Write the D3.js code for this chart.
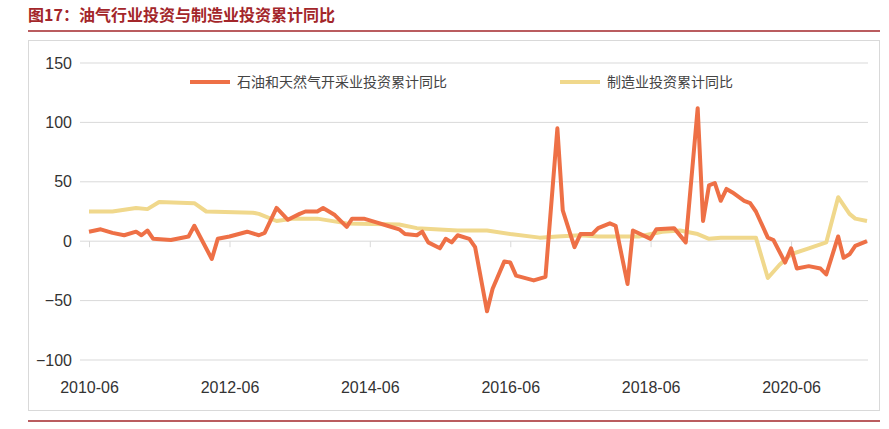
<!DOCTYPE html>
<html><head><meta charset="utf-8">
<script src="https://cdn.jsdelivr.net/npm/d3@7/dist/d3.min.js"></script>
<style>body{margin:0;background:#fff;font-family:"Noto Sans CJK SC","DejaVu Sans",sans-serif}</style>
</head><body><svg id="c" width="889" height="429"></svg>
<script>
const oilDates=["2010-06","2010-08","2010-10","2010-12","2011-02","2011-03","2011-04","2011-05","2011-08","2011-11","2011-12","2012-03","2012-04","2012-06","2012-09","2012-11","2012-12","2013-02","2013-04","2013-06","2013-07","2013-09","2013-10","2013-12","2014-02","2014-03","2014-05","2014-07","2014-09","2014-11","2014-12","2015-02","2015-03","2015-04","2015-06","2015-07","2015-08","2015-09","2015-11","2015-12","2016-02","2016-03","2016-05","2016-06","2016-07","2016-10","2016-12","2017-02","2017-03","2017-05","2017-06","2017-08","2017-09","2017-11","2017-12","2018-02","2018-03","2018-06","2018-07","2018-10","2018-12","2019-02","2019-03","2019-04","2019-05","2019-06","2019-07","2019-08","2019-10","2019-11","2019-12","2020-02","2020-03","2020-05","2020-06","2020-07","2020-09","2020-11","2020-12","2021-02","2021-03","2021-04","2021-05","2021-07"];
const oilValues=[8,10,7,5,8,5,9,2,1,4,13,-15,2,4,8,5,7,28,18,23,25,25,28,22,12,19,19,16,13,10,6,5,8,-1,-6,2,-1,5,2,-5,-59,-40,-17,-18,-29,-33,-30,95,26,-5,6,6,11,15,13,-36,9,2,10,11,-1,112,17,47,49,34,44,41,34,32,25,3,1,-18,-6,-23,-21,-23,-28,4,-14,-11,-4,0];
const mfgDates=["2010-06","2010-10","2011-02","2011-04","2011-06","2011-12","2012-02","2012-10","2012-11","2013-02","2013-05","2013-09","2014-02","2014-11","2015-02","2015-09","2016-02","2016-06","2016-11","2017-02","2017-06","2017-09","2018-04","2018-08","2018-11","2019-02","2019-04","2019-06","2019-12","2020-02","2020-04","2020-06","2020-09","2020-12","2021-02","2021-04","2021-05","2021-07"];
const mfgValues=[25,25,28,27,33,32,25,24,23,17,19,19,15,14,11,9,9,6,3,4,5,4,4,8,9,6,2,3,3,-31,-20,-11,-6,-1,37,23,19,17];
const yTicks=[150,100,50,0,-50,-100];
const xTickLabels=["2010-06","2012-06","2014-06","2016-06","2018-06","2020-06"];
const seriesNames=["石油和天然气开采业投资累计同比","制造业投资累计同比"];
const colors=["#ee7046","#f0d88c"];

const p=d3.timeParse("%Y-%m");
const svg=d3.select("#c");
svg.append("text").attr("x",28).attr("y",21).attr("fill","#a3262a").attr("font-size",16).attr("font-weight","bold").text("图17：油气行业投资与制造业投资累计同比");
svg.append("line").attr("x1",28).attr("x2",880).attr("y1",31).attr("y2",31).attr("stroke","#a3262a").attr("stroke-width",1.5);
svg.append("line").attr("x1",28).attr("x2",880).attr("y1",421).attr("y2",421).attr("stroke","#a3262a").attr("stroke-width",1.5);
svg.append("rect").attr("x",28.5).attr("y",40.5).attr("width",851).attr("height",370).attr("fill","none").attr("stroke","#d9d9d9");

const x=d3.scaleTime().domain([p("2010-06"),p("2021-07")]).range([89,867]);
const y=d3.scaleLinear().domain([-100,150]).range([360,63]);
const g=svg.append("g");
yTicks.filter(v=>v!==0).forEach(v=>g.append("line").attr("x1",80).attr("x2",868).attr("y1",y(v)).attr("y2",y(v)).attr("stroke","#d9d9d9"));
const ya=svg.append("g").attr("transform","translate(72,0)").call(d3.axisLeft(y).tickValues(yTicks).tickSize(0).tickPadding(0));
ya.select(".domain").remove();
ya.selectAll("text").attr("font-size",16).attr("fill","#333").attr("font-family","Liberation Sans, Arial, sans-serif");
const xa=svg.append("g").attr("transform",`translate(0,${y(0)})`).call(d3.axisBottom(x).tickValues(xTickLabels.map(p)).tickSize(6).tickFormat(d3.timeFormat("%Y-%m")));
xa.select(".domain").attr("stroke","#d9d9d9").attr("d","M80,0H868");
xa.selectAll("line").attr("stroke","#d9d9d9");
xa.selectAll("text").attr("font-size",16).attr("fill","#333").attr("font-family","Liberation Sans, Arial, sans-serif").attr("y",140);

const line=d3.line().x(d=>x(d[0])).y(d=>y(d[1]));
svg.append("path").datum(mfgDates.map((d,i)=>[p(d),mfgValues[i]])).attr("d",line).attr("fill","none").attr("stroke",colors[1]).attr("stroke-width",4).attr("stroke-linejoin","round");
svg.append("path").datum(oilDates.map((d,i)=>[p(d),oilValues[i]])).attr("d",line).attr("fill","none").attr("stroke",colors[0]).attr("stroke-width",4).attr("stroke-linejoin","round");

[[190,0],[560,1]].forEach(([lx,i])=>{
 svg.append("line").attr("x1",lx).attr("x2",lx+40).attr("y1",82).attr("y2",82).attr("stroke",colors[i]).attr("stroke-width",4);
 svg.append("text").attr("x",lx+47).attr("y",87).attr("font-size",14).attr("fill","#444").text(seriesNames[i]);
});
</script></body></html>
